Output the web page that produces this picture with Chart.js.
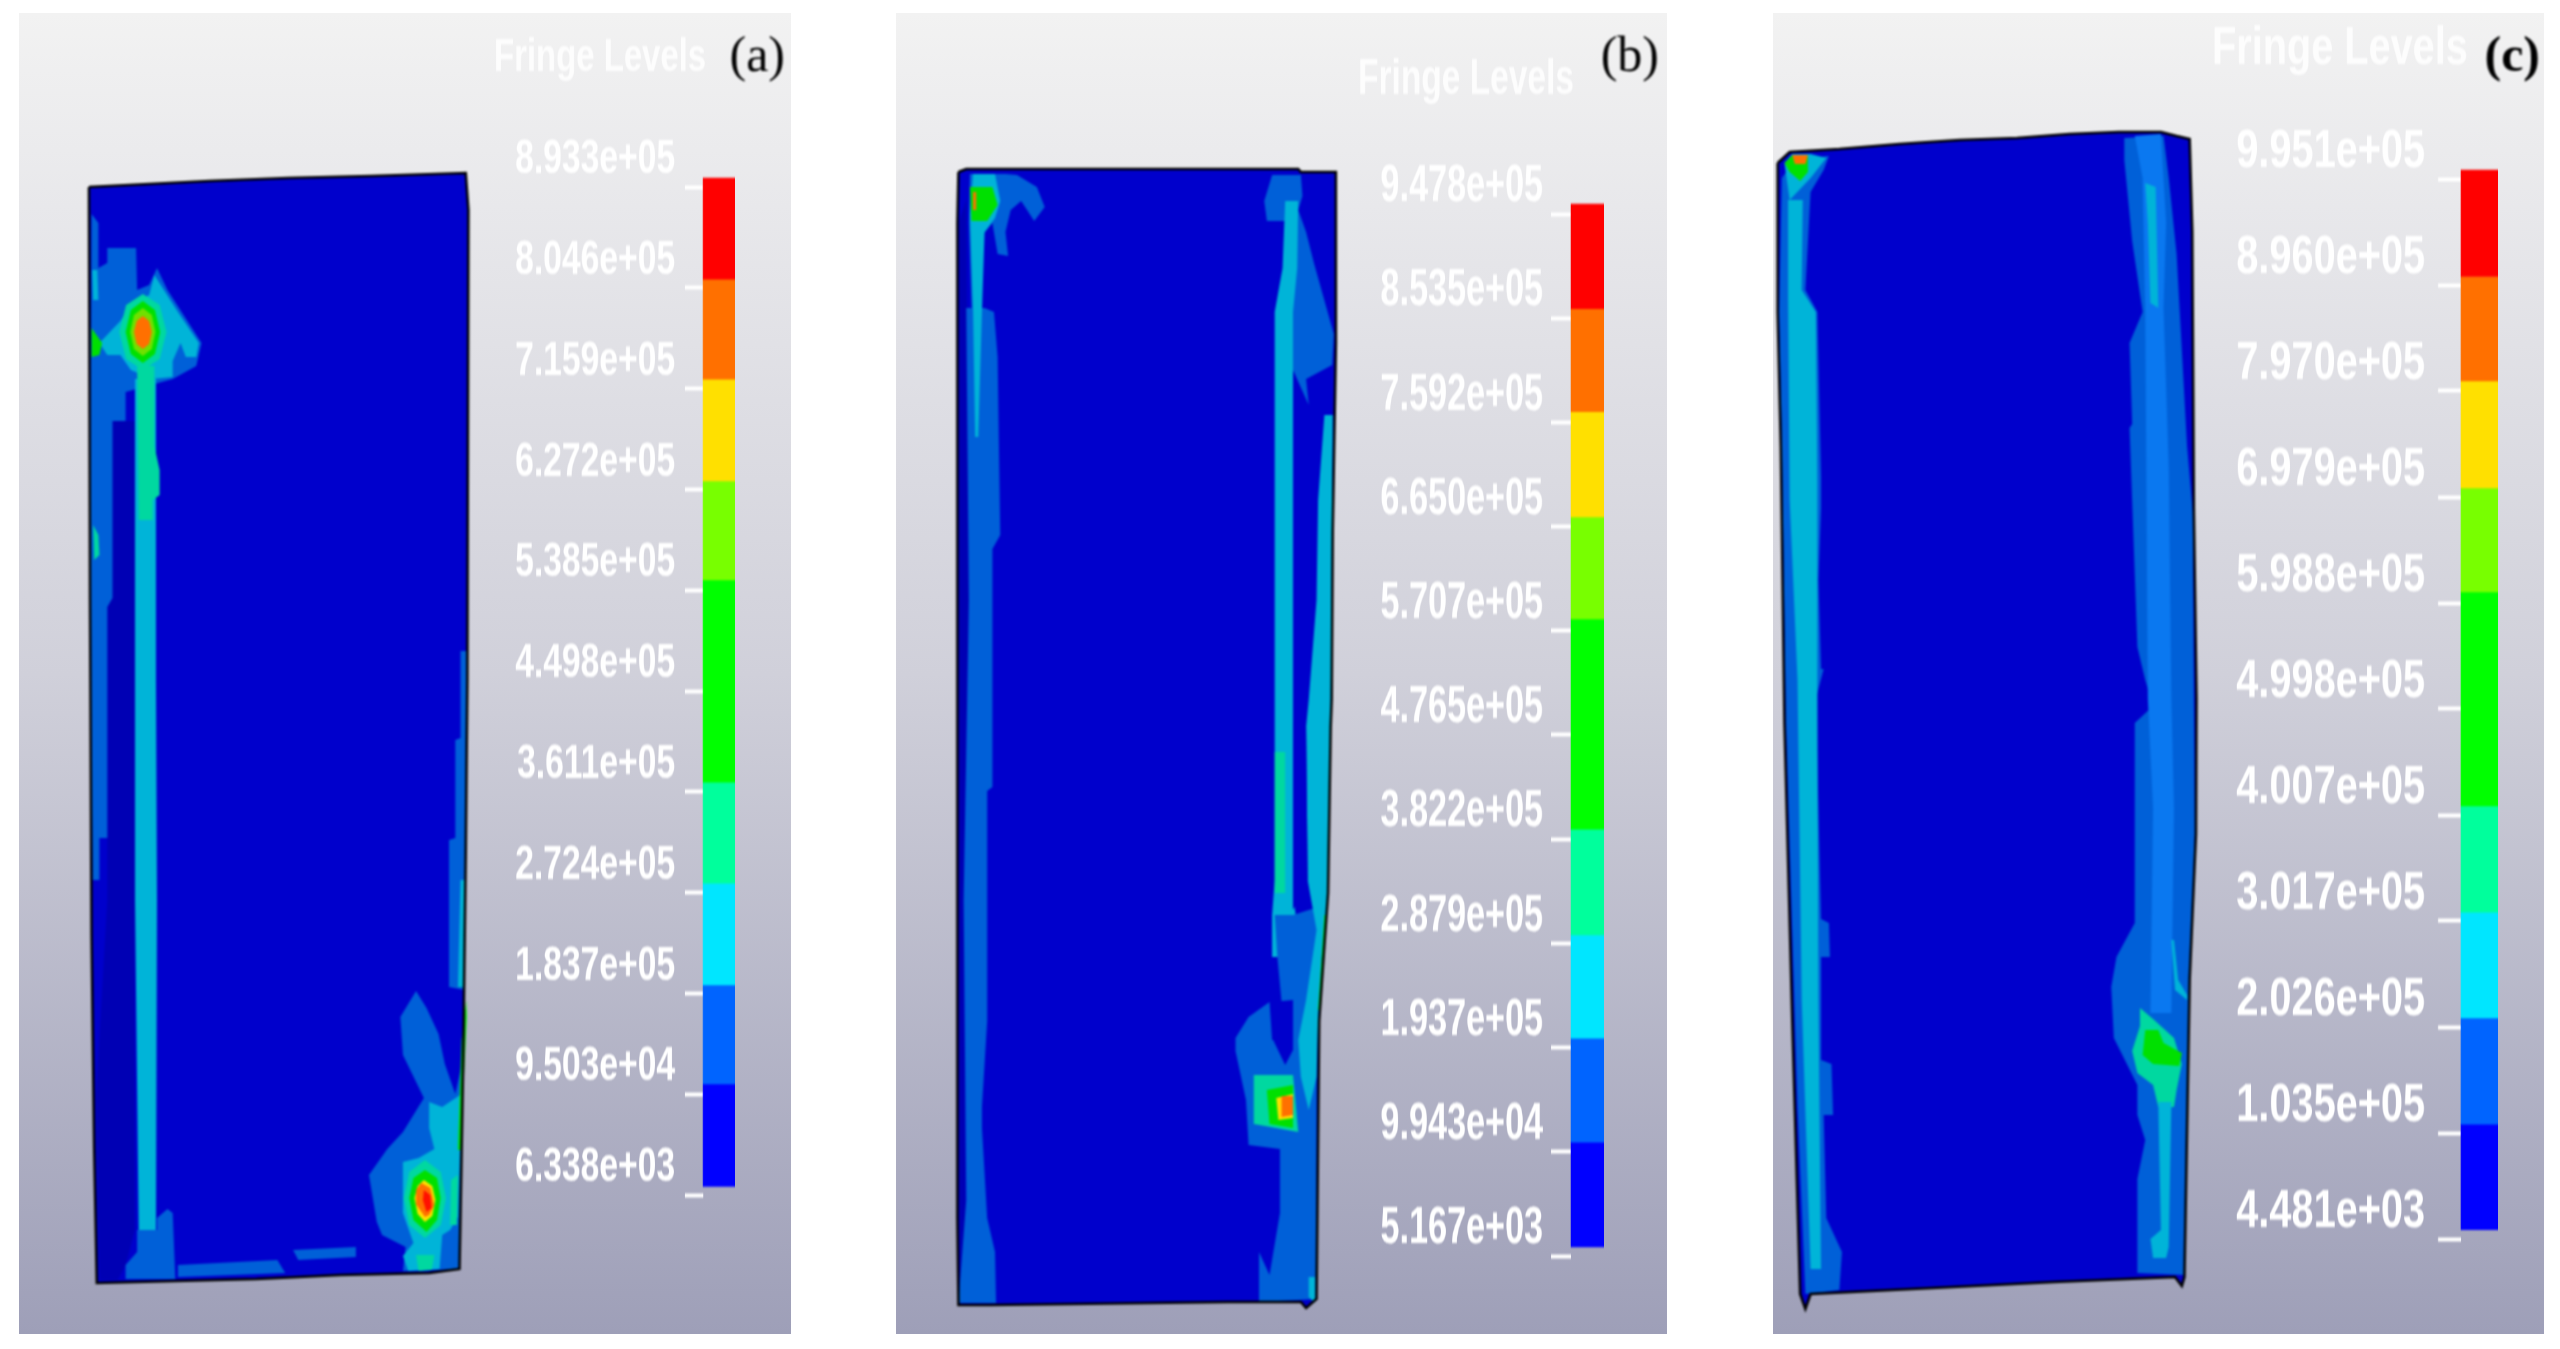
<!DOCTYPE html>
<html>
<head>
<meta charset="utf-8">
<title>Fringe Levels</title>
<script src="https://cdn.jsdelivr.net/npm/chart.js@4/dist/chart.umd.min.js"></script>
<style>
  html, body { margin: 0; padding: 0; background: #fff; overflow: hidden; }
  #page { position: relative; width: 2560px; height: 1349px; }
  .back { position: absolute; top: 13px; height: 1321px;
          background: linear-gradient(#f2f2f2, #d0d0da 50%, #9e9fb8); }
  canvas { position: absolute; top: 0; filter: blur(0.9px); }
  .level { transform-origin: 0 0; }
</style>
</head>
<body>
<div id="page"></div>
<script>
// fringe level labels, top to bottom
const labelsA = ['8.933e+05','8.046e+05','7.159e+05','6.272e+05','5.385e+05','4.498e+05','3.611e+05','2.724e+05','1.837e+05','9.503e+04','6.338e+03'];
const labelsB = ['9.478e+05','8.535e+05','7.592e+05','6.650e+05','5.707e+05','4.765e+05','3.822e+05','2.879e+05','1.937e+05','9.943e+04','5.167e+03'];
const labelsC = ['9.951e+05','8.960e+05','7.970e+05','6.979e+05','5.988e+05','4.998e+05','4.007e+05','3.017e+05','2.026e+05','1.035e+05','4.481e+03'];

// colour bar band edges (the bar sits a little above the ticks)
const edgesA = [901200, 812300, 724300, 634600, 547500, 369700, 280800, 191100, 104000, 13800];
const edgesB = [956850, 862200, 769000, 673700, 581400, 391400, 295600, 202300, 108200, 13300];
const edgesC = [1003500, 904000, 806300, 706300, 609100, 409100, 310000, 211000, 111900, 13200];
const barColors = ['#ff0000', '#ff7000', '#ffe000', '#78ff00', '#00ff00', '#00ff9c', '#00e6ff', '#0064ff', '#0000ff'];

// colours of the same bands on the shaded plate
const fieldColors = ['#0000cc', '#0060d8', '#00b4d8', '#00d8a0', '#00e000', '#70e000', '#ffe000', '#ff7000', '#ff1000', '#0a78f0', '#0000b4'];

// plate outlines, x,y pairs in plate coordinates
const plateA = [170,187, 400,181, 550,178, 710,176, 890,173, 895,210, 893,680, 890,851, 885,1064, 878,1269, 820,1273, 650,1275, 490,1279, 335,1281, 185,1283, 180,1149, 175,936, 172,600];
const plateB = [150,172, 165,169, 800,169, 805,172, 872,172, 872,343, 866,531, 864,699, 862,727, 857,893, 840,1021, 835,1299, 815,1308, 805,1302, 665,1302, 210,1305, 150,1305, 148,1218, 148,223];
const plateC = [72,163, 95,152, 190,149, 305,144, 420,140, 530,138, 630,134, 725,132, 805,132, 835,136, 860,139, 865,232, 868,508, 873,699, 872,834, 860,979, 850,1277, 845,1286, 832,1277, 600,1282, 135,1294, 125,1309, 115,1294, 100,1021, 85,723, 78,446, 72,312];

// contour patches: [band, x,y pairs], painted in this order
const patchesA = [
  [10, [215,421, 258,421, 258,1230, 240,1265, 225,1280, 190,1280, 183,1100, 205,900, 205,607]],
  [1, [175,214, 188,223, 188,268, 205,263, 205,248, 260,248, 262,290, 285,285, 300,268, 320,290, 385,343, 375,366, 330,379, 295,384, 240,392, 240,421, 215,421, 215,598, 205,607, 205,838, 190,838, 190,880, 177,880, 172,600]],
  [2, [230,321, 250,305, 285,295, 295,275, 340,312, 380,343, 375,357, 355,357, 345,343, 330,361, 330,377, 290,379, 250,370, 230,355, 205,355, 190,343]],
  [2, [258,379, 298,379, 298,680, 300,900, 298,1230, 265,1230, 258,900]],
  [3, [262,366, 295,366, 295,446, 305,470, 305,495, 292,500, 292,520, 265,520]],
  [4, [175,328, 195,343, 190,355, 175,357]],
  [2, [176,270, 186,270, 188,300, 178,300]],
  [3, [178,525, 188,535, 190,555, 180,560]],
  [1, [262,1230, 300,1230, 300,1218, 320,1209, 330,1213, 335,1279, 240,1279, 240,1265, 262,1252]],
  [1, [340,1265, 530,1260, 545,1273, 495,1274, 340,1277]],
  [1, [560,1250, 680,1247, 680,1257, 570,1260]],
  [1, [880,651, 893,651, 893,740, 890,851, 888,990, 858,987, 858,840, 870,838, 870,740, 880,738]],
  [2, [880,880, 890,880, 888,987, 875,987]],
  [1, [795,991, 815,1008, 838,1034, 850,1064, 870,1094, 884,1060, 878,1269, 770,1271, 775,1247, 730,1235, 720,1222, 705,1175, 740,1149, 770,1132, 810,1098, 770,1055, 765,1017]],
  [2, [820,1102, 845,1107, 882,1094, 875,1217, 860,1230, 845,1235, 840,1269, 780,1271, 770,1256, 790,1243, 770,1213, 770,1162, 800,1158, 830,1149, 820,1128]],
  [3, [862,1180, 875,1175, 873,1225, 860,1225]],
  [3, [795,1255, 830,1255, 825,1270, 800,1271]],
  [4, [891,1000, 892,1017, 880,1150, 875,1150, 882,1040]],
  [3, [273,294, 305,305, 318,332, 305,359, 273,370, 241,359, 228,332, 241,305]],
  [4, [273,301, 296,310, 306,332, 296,354, 273,363, 250,354, 240,332, 250,310]],
  [5, [273,308, 290,315, 297,332, 290,349, 273,356, 256,349, 249,332, 256,315]],
  [7, [273,316, 285,321, 290,332, 285,344, 273,349, 261,344, 256,332, 261,321]],
  [3, [812,1160, 842,1172, 852,1198, 842,1225, 812,1238, 782,1225, 772,1198, 782,1172]],
  [4, [812,1170, 835,1178, 842,1198, 835,1220, 815,1232, 790,1220, 782,1198, 790,1178]],
  [6, [810,1180, 826,1186, 832,1200, 826,1216, 812,1222, 798,1214, 792,1198, 798,1186]],
  [7, [805,1183, 822,1188, 830,1205, 820,1215, 812,1217, 796,1205, 795,1190]],
  [8, [810,1190, 822,1195, 825,1208, 815,1212, 808,1200]]
];
const patchesB = [
  [10, [150,223, 165,200, 170,600, 160,900, 165,1300, 150,1303, 148,1000]],
  [1, [165,308, 200,308, 218,312, 225,357, 230,535, 215,549, 215,787, 205,791, 205,1021, 195,1107, 195,1128, 205,1218, 220,1252, 222,1303, 150,1303, 165,1200, 160,900, 170,600]],
  [1, [172,174, 240,174, 262,175, 300,187, 315,207, 295,221, 270,201, 250,210, 240,232, 245,256, 225,254, 215,223, 195,236, 190,308, 175,308, 170,223]],
  [2, [178,174, 220,174, 230,201, 220,218, 200,232, 195,312, 188,437, 182,437, 178,312, 172,214]],
  [4, [172,187, 215,187, 225,205, 205,221, 175,221]],
  [7, [178,192, 184,192, 184,210, 178,210]],
  [1, [750,175, 805,175, 808,196, 800,210, 815,232, 830,263, 868,334, 865,365, 815,379, 820,405, 790,370, 790,221, 770,221, 740,221, 735,201]],
  [2, [775,201, 800,201, 798,268, 790,312, 790,893, 795,915, 795,957, 750,957, 750,915, 755,880, 755,312, 770,268]],
  [3, [755,752, 775,752, 775,893, 755,893]],
  [1, [755,915, 790,915, 850,905, 835,1021, 835,1299, 725,1302, 725,1252, 745,1275, 765,1213, 765,1149, 705,1145, 700,1100, 680,1051, 680,1038, 705,1017, 745,1002, 750,1040, 775,1040, 760,957]],
  [0, [750,1002, 790,1000, 790,1050, 775,1065, 752,1040]],
  [2, [850,415, 866,415, 862,727, 857,893, 845,957, 838,1021, 835,1077, 820,1110, 805,1077, 800,1040, 815,1000, 835,930, 818,880, 815,727, 820,700, 835,600, 838,500]],
  [0, [790,722, 815,727, 818,880, 790,910]],
  [3, [715,1075, 790,1075, 800,1132, 715,1124]],
  [4, [740,1090, 790,1085, 790,1128, 745,1124]],
  [6, [758,1098, 790,1094, 790,1118, 762,1120]],
  [7, [768,1096, 790,1096, 790,1115, 768,1117]],
  [2, [820,1277, 832,1277, 832,1303, 820,1297]],
  [4, [850,915, 855,915, 843,1010, 838,1010]]
];
const patchesC = [
  [1, [735,138, 810,136, 820,178, 835,254, 855,446, 866,513, 868,699, 870,834, 860,979, 850,1275, 760,1273, 760,1179, 775,1140, 760,1115, 760,1085, 715,1038, 710,987, 720,957, 755,923, 755,723, 790,706, 775,680, 760,647, 745,428, 750,424, 745,343, 770,312, 750,241, 735,160]],
  [9, [755,136, 805,134, 815,223, 810,308, 820,468, 825,699, 830,808, 825,1013, 785,1013, 790,808, 780,699, 775,312, 770,178]],
  [2, [775,183, 795,187, 800,308, 785,303, 780,223]],
  [2, [825,940, 830,940, 838,980, 855,995, 855,1000, 832,990]],
  [3, [765,1008, 790,1019, 830,1038, 845,1064, 835,1090, 830,1107, 800,1107, 790,1085, 760,1073, 750,1051, 765,1026]],
  [2, [800,1102, 825,1102, 820,1247, 815,1258, 790,1258, 785,1239, 805,1230]],
  [4, [775,1030, 800,1030, 810,1043, 845,1053, 840,1066, 790,1064, 770,1055]],
  [1, [95,167, 135,158, 170,156, 160,170, 135,192, 125,290, 148,312, 155,477, 155,508, 150,580, 155,669, 160,669, 145,699, 155,919, 170,923, 172,957, 155,957, 155,1060, 175,1064, 178,1115, 160,1115, 165,1218, 195,1252, 190,1290, 125,1294, 110,1107, 88,723, 80,446, 75,312, 80,178]],
  [2, [92,200, 120,200, 118,290, 145,312, 148,482, 148,699, 150,1000, 155,1269, 135,1269, 118,1000, 110,680, 95,500, 92,300]],
  [2, [85,163, 100,154, 135,154, 165,158, 135,178, 95,200]],
  [4, [85,163, 100,155, 130,155, 130,172, 115,181, 95,172]],
  [7, [100,155, 130,155, 125,164, 105,164]]
];

// one colour bar with its fringe level axis
function drawLevels(o) {
  const values = o.labels.map(Number);
  const canvas = document.createElement('canvas');
  canvas.className = 'level';
  const axisWidth = (o.barLeft - o.left) / o.squeeze;
  const barWidth = o.barWidth / o.squeeze;
  canvas.width = axisWidth + barWidth;
  canvas.height = 1349;
  canvas.style.left = o.left + 'px';
  canvas.style.transform = 'scaleX(' + o.squeeze + ')';
  document.getElementById('page').appendChild(canvas);

  const datasets = barColors.map((color, i) => ({
    data: [[o.edges[i + 1], o.edges[i]]],
    backgroundColor: color,
    borderWidth: 0,
    borderSkipped: false,
    grouped: false,
    barPercentage: 1,
    categoryPercentage: 1,
    clip: false
  }));

  new Chart(canvas, {
    type: 'bar',
    data: { labels: ['levels'], datasets: datasets },
    options: {
      responsive: false,
      animation: false,
      layout: { padding: { bottom: 1349 - o.lastTick } },
      plugins: {
        legend: { display: false },
        tooltip: { enabled: false },
        title: {
          display: true,
          text: 'Fringe Levels',
          align: 'start',
          color: 'rgba(255,255,255,0.85)',
          font: { family: 'Liberation Sans', size: o.titleSize, lineHeight: 1, weight: 'bold' },
          padding: { top: o.titleTop, bottom: o.firstTick - o.titleTop - o.titleSize }
        }
      },
      scales: {
        x: { display: false },
        y: {
          min: values[values.length - 1],
          max: values[0],
          afterBuildTicks: ax => { ax.ticks = values.map(v => ({ value: v })); },
          afterFit: ax => { ax.width = axisWidth; },
          border: { display: false },
          grid: { drawOnChartArea: false, tickLength: o.tickLength / o.squeeze, tickColor: '#fff', tickWidth: 4 },
          ticks: {
            autoSkip: false,
            color: '#fff',
            padding: o.tickGap / o.squeeze,
            labelOffset: -27,
            font: { family: 'Liberation Sans', size: o.fontSize, weight: 'bold' },
            callback: v => o.labels[values.indexOf(v)]
          }
        }
      }
    }
  });
}

// the plate with its contour patches, patches go through the x/y scales
function drawPlate(o) {
  const canvas = document.createElement('canvas');
  canvas.width = o.width;
  canvas.height = 1349;
  canvas.style.left = o.left + 'px';
  document.getElementById('page').appendChild(canvas);

  const toPoints = flat => {
    const pts = [];
    for (let i = 0; i < flat.length; i += 2) pts.push({ x: flat[i], y: flat[i + 1] });
    pts.push({ x: flat[0], y: flat[1] });
    return pts;
  };
  const datasets = o.patches.map(p => ({
    data: toPoints(p[1]),
    showLine: true,
    fill: 'shape',
    tension: 0,
    pointRadius: 0,
    borderWidth: 0,
    backgroundColor: fieldColors[p[0]]
  }));
  // outline goes last in the list so it is painted first, then redrawn as a border on top
  datasets.reverse();
  datasets.unshift({ data: toPoints(o.plate), showLine: true, fill: false, tension: 0, pointRadius: 0, borderWidth: 2.5, borderColor: '#000' });
  datasets.push({ data: toPoints(o.plate), showLine: true, fill: 'shape', tension: 0, pointRadius: 0, borderWidth: 0, backgroundColor: fieldColors[0] });

  new Chart(canvas, {
    type: 'scatter',
    data: { datasets: datasets },
    options: {
      responsive: false,
      animation: false,
      plugins: {
        legend: { display: false },
        tooltip: { enabled: false },
        title: {
          display: true,
          text: o.tag,
          align: 'end',
          color: '#000',
          font: { family: 'Liberation Serif', size: 50, lineHeight: 1, weight: o.tagWeight },
          padding: { top: 33, bottom: 17 }
        }
      },
      scales: {
        x: { display: false, min: 0, max: o.xMax },
        y: { display: false, min: 100, max: 1349, reverse: true }
      }
    }
  });
}

function addBack(left, width) {
  const d = document.createElement('div');
  d.className = 'back';
  d.style.left = left + 'px';
  d.style.width = width + 'px';
  document.getElementById('page').appendChild(d);
}

addBack(19, 772);
addBack(896, 771);
addBack(1773, 771);

drawPlate({ left: 0, width: 785, xMax: 1500, plate: plateA, patches: patchesA, tag: '(a)', tagWeight: 'normal' });
drawPlate({ left: 880, width: 779, xMax: 1490, plate: plateB, patches: patchesB, tag: '(b)', tagWeight: 'normal' });
drawPlate({ left: 1740, width: 800, xMax: 1530, plate: plateC, patches: patchesC, tag: '(c)', tagWeight: 'bold' });

drawLevels({ left: 494, barLeft: 703, barWidth: 33, labels: labelsA, edges: edgesA, squeeze: 0.70, fontSize: 48, titleSize: 47, titleTop: 35, firstTick: 187, lastTick: 1195, tickLength: 18, tickGap: 10 });
drawLevels({ left: 1358, barLeft: 1571, barWidth: 33, labels: labelsB, edges: edgesB, squeeze: 0.67, fontSize: 51, titleSize: 50, titleTop: 55, firstTick: 214, lastTick: 1256, tickLength: 20, tickGap: 8 });
drawLevels({ left: 2212, barLeft: 2461, barWidth: 37, labels: labelsC, edges: edgesC, squeeze: 0.735, fontSize: 54, titleSize: 54, titleTop: 22, firstTick: 179, lastTick: 1239, tickLength: 23, tickGap: 13 });
</script>
</body>
</html>
